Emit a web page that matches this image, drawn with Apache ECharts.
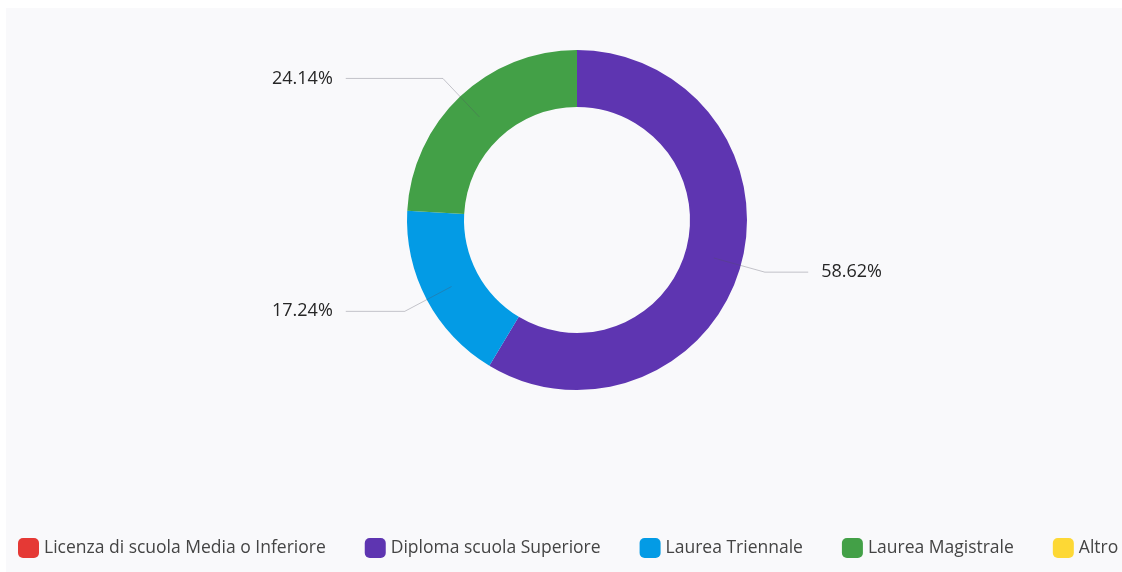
<!DOCTYPE html>
<html>
<head>
<meta charset="utf-8">
<script src="https://cdn.jsdelivr.net/npm/echarts@6/dist/echarts.min.js"></script>
<style>
  html, body { margin: 0; padding: 0; background: #ffffff; }
  #chart { width: 1122px; height: 572px; }
</style>
</head>
<body>
<div id="chart"></div>
<script>
// Titolo di studio: share of respondents (%)
const categories = [
  'Licenza di scuola Media o Inferiore',
  'Diploma scuola Superiore',
  'Laurea Triennale',
  'Laurea Magistrale',
  'Altro'
];
const percentages = [0, 58.62, 17.24, 24.14, 0];
const colors = ['#e53935', '#5e35b1', '#039be5', '#43a047', '#fdd835'];

const FONT = '"Open Sans", "Noto Sans", sans-serif';

// Ring slices
const ringData = categories.map((name, i) => ({
  name: name,
  value: percentages[i],
  itemStyle: { color: colors[i] }
}));

// Same slices on a transparent inner pie, so leader lines start mid-ring
const labelData = categories.map((name, i) => {
  const visible = percentages[i] > 0;
  return {
    name: name,
    value: percentages[i],
    label: { show: visible },
    labelLine: { show: visible }
  };
});

const chart = echarts.init(document.getElementById('chart'), null, { renderer: 'canvas' });

chart.setOption({
  animation: false,
  backgroundColor: '#ffffff',
  graphic: [{
    type: 'rect',
    left: 6, top: 8,
    shape: { width: 1116, height: 564 },
    style: { fill: '#f9f9fb' },
    z: -10, silent: true
  }],
  legend: {
    left: 18,
    top: 538,
    padding: 0,
    itemWidth: 21,
    itemHeight: 20,
    itemGap: 39,
    icon: 'roundRect',
    selectedMode: false,
    data: categories,
    textStyle: { fontFamily: FONT, fontSize: 17.5, color: '#444444' }
  },
  series: [
    {
      type: 'pie',
      left: 32, right: 0, top: 0, bottom: 0,
      center: [545, 220],
      radius: [113, 170],
      startAngle: 90,
      clockwise: true,
      silent: true,
      label: { show: false },
      labelLine: { show: false },
      emphasis: { disabled: true },
      data: ringData
    },
    {
      type: 'pie',
      left: 32, right: 0, top: 0, bottom: 0,
      center: [545, 220],
      radius: [0, 142],
      startAngle: 90,
      clockwise: true,
      silent: true,
      z: 5,
      legendHoverLink: false,
      itemStyle: { color: 'rgba(0,0,0,0)' },
      emphasis: { disabled: true },
      label: {
        show: true,
        position: 'outside',
        alignTo: 'edge',
        edgeDistance: 240,
        distanceToLabelLine: 13,
        fontFamily: FONT,
        fontSize: 18,
        color: '#262626',
        formatter: p => p.value.toFixed(2) + '%'
      },
      labelLine: {
        show: true,
        length: 53,
        length2: 40,
        lineStyle: { color: 'rgba(80,80,95,0.32)', width: 1 }
      },
      data: labelData
    }
  ]
});
</script>
</body>
</html>
